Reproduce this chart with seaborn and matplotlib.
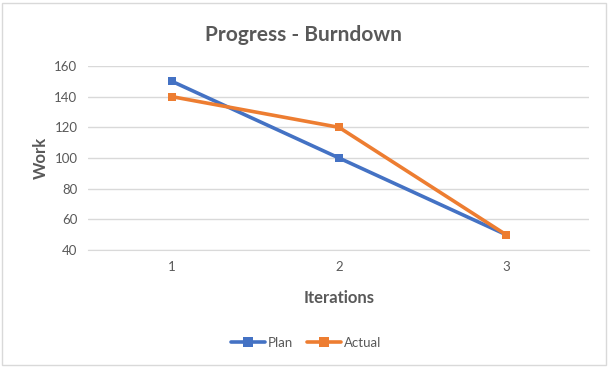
import pandas as pd
import matplotlib
matplotlib.use('Agg')
import matplotlib.pyplot as plt
import seaborn as sns
from matplotlib.patches import Rectangle

# ── Data ─────────────────────────────────────────────────────────────
iterations = ['1', '2', '3']
plan = [150, 100, 50]
actual = [140, 120, 50]

df = pd.DataFrame({
    'Iterations': iterations * 2,
    'Work': plan + actual,
    'Series': ['Plan'] * 3 + ['Actual'] * 3,
})

sns.set_style('white')
plt.rcParams['font.family'] = ['Lato', 'DejaVu Sans']

fig = plt.figure(figsize=(6.12, 3.74), dpi=100)
ax = fig.add_axes([0.1446, 0.3316, 0.8186, 0.4919])

palette = {'Plan': '#4472C4', 'Actual': '#ED7D31'}
sns.lineplot(data=df, x='Iterations', y='Work', hue='Series', palette=palette,
             marker='s', markersize=6, markeredgewidth=0, linewidth=2.6,
             sort=False, ax=ax, legend=True)

ax.set_xlim(-0.5, 2.5)
ax.set_ylim(40, 160)
ax.set_yticks(range(40, 161, 20))
ax.yaxis.grid(True, color='#D9D9D9', linewidth=1)
ax.set_axisbelow(True)
for s in ax.spines.values():
    s.set_visible(False)
ax.spines['bottom'].set_visible(True)
ax.spines['bottom'].set_color('#D9D9D9')
ax.tick_params(axis='both', length=0, labelsize=9.5, colors='#595959', pad=8)

ax.set_xlabel('Iterations', fontsize=12, fontweight='bold', color='#595959', labelpad=12)
ax.set_ylabel('Work', fontsize=12, fontweight='bold', color='#595959', labelpad=4)
ax.set_title('Progress - Burndown', fontsize=15, fontweight='bold', color='#595959',
             pad=18, x=0.43)

# legend centred on the figure, below the axis title
handles, labels = ax.get_legend_handles_labels()
ax.get_legend().remove()
for h in handles:
    h.set_markersize(7)
fig.legend(handles, labels, loc='center', bbox_to_anchor=(0.5, 0.083),
           ncol=2, frameon=False, fontsize=9.5, labelcolor='#595959',
           handlelength=2.6, handletextpad=0.2, columnspacing=1.0)

fig.patches.append(Rectangle((0.004, 0.025), 0.986, 0.967, transform=fig.transFigure,
                             fill=False, edgecolor='#D9D9D9', linewidth=1))

fig.savefig('out.png', dpi=100)
